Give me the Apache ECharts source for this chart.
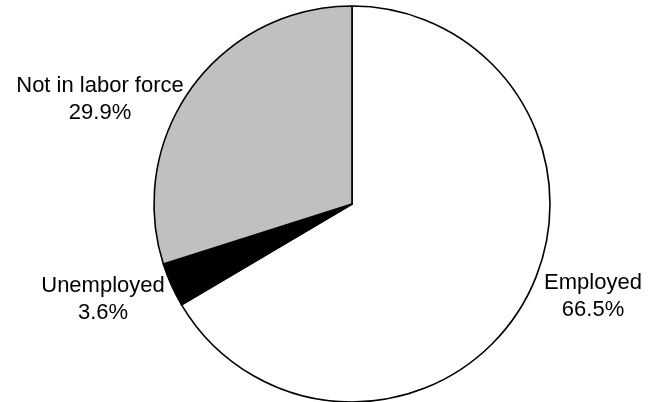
<!DOCTYPE html>
<html>
<head>
<meta charset="utf-8">
<script src="https://cdn.jsdelivr.net/npm/echarts@6/dist/echarts.min.js"></script>
<style>
html,body{margin:0;padding:0;background:#fff;}
#chart{width:654px;height:402px;}
</style>
</head>
<body>
<div id="chart"></div>
<script>
var categories = ['Employed', 'Unemployed', 'Not in labor force'];
var values = [66.5, 3.6, 29.9];
var sliceColors = ['#ffffff', '#000000', '#c0c0c0'];
var labelPos = [[593, 296], [103, 299], [100, 99]];

var chart = echarts.init(document.getElementById('chart'));
chart.setOption({
  animation: false,
  backgroundColor: '#ffffff',
  series: [{
    type: 'pie',
    center: [352, 204],
    radius: 198,
    startAngle: 90,
    clockwise: true,
    silent: true,
    data: categories.map(function (c, i) {
      return { name: c, value: values[i], itemStyle: { color: sliceColors[i] } };
    }),
    itemStyle: { borderColor: '#000', borderWidth: 1.6 },
    label: {
      show: true,
      position: 'inside',
      overflow: 'none',
      formatter: function (p) { return p.name + '\n' + p.value.toFixed(1) + '%'; },
      fontFamily: 'Liberation Sans, Arial, sans-serif',
      fontSize: 22,
      lineHeight: 27,
      color: '#000',
      align: 'center'
    },
    labelLine: { show: false },
    labelLayout: function (params) {
      var p = labelPos[params.dataIndex];
      return { x: p[0], y: p[1], align: 'center', verticalAlign: 'middle' };
    }
  }]
});
</script>
</body>
</html>
